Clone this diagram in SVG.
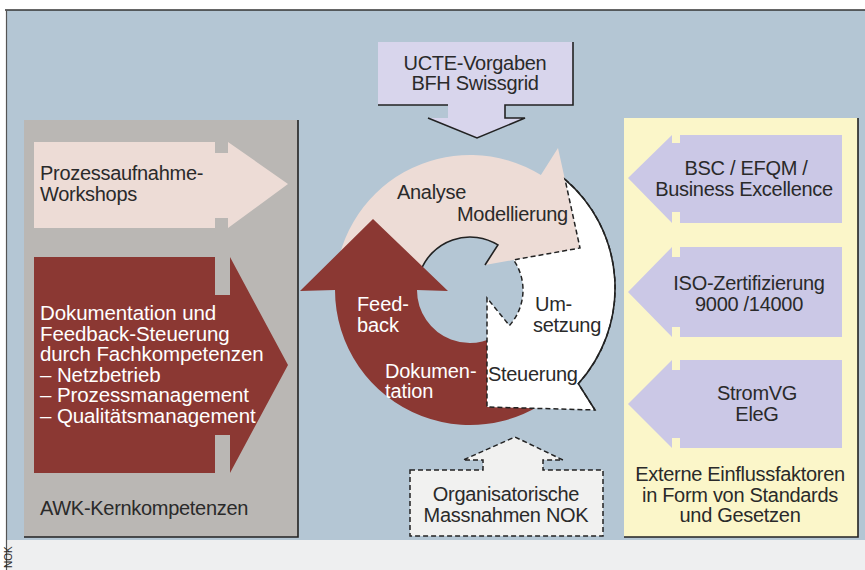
<svg xmlns="http://www.w3.org/2000/svg" width="865" height="570" viewBox="0 0 865 570">
<style>
text{font-family:"Liberation Sans",Arial,Helvetica,sans-serif;font-size:20px;letter-spacing:-0.3px;fill:#2a2a2a}
.w{fill:#ffffff;font-size:20.5px;letter-spacing:-0.1px}
.wc{fill:#ffffff;font-size:20px;letter-spacing:-0.1px}
.mid{text-anchor:middle}
.edge{fill:none;stroke:#222;stroke-width:1.6}
.dash{stroke:#222;stroke-width:1.5;stroke-dasharray:5 3}
.lav{fill:#cbc8e6}
</style>
<rect x="0" y="0" width="865" height="570" fill="#ffffff"/>
<rect x="6" y="540" width="859" height="30" fill="#eeeff0"/>
<rect x="7" y="10" width="858" height="530" fill="#b4c6d4"/>
<line x1="5" y1="10" x2="865" y2="10" stroke="#333" stroke-width="1.5"/>
<line x1="6.5" y1="10" x2="6.5" y2="570" stroke="#555" stroke-width="1.2"/>
<text transform="translate(12,568) rotate(-90)" style="font-size:10px;letter-spacing:0">NOK</text>

<g id="left-panel">
<rect x="24" y="120" width="274" height="417" fill="#bab7b4"/>
<polyline class="edge" points="298,120 298,537 24,537"/>
<text x="40" y="515">AWK-Kernkompetenzen</text>
</g>
<g id="prozessaufnahme">
<polygon points="34,142 215,142 215,153 228,153 228,142 288,184 228,228 228,218 215,218 215,228 34,228" fill="#eddcd6"/>
<text x="40" y="180">Prozessaufnahme-</text>
<text x="40" y="201">Workshops</text>
</g>
<g id="dokumentation">
<polygon points="34,257 215,257 215,295 230,295 230,257 288,365 230,473 230,435 215,435 215,473 34,473" fill="#8b3833"/>
<text class="w" x="40" y="320">Dokumentation und</text>
<text class="w" x="40" y="340.5">Feedback-Steuerung</text>
<text class="w" x="40" y="361">durch Fachkompetenzen</text>
<text class="w" x="40" y="381.5">– Netzbetrieb</text>
<text class="w" x="40" y="402">– Prozessmanagement</text>
<text class="w" x="40" y="422.5">– Qualitätsmanagement</text>
</g>

<g id="right-panel">
<rect x="624" y="118" width="234" height="419" fill="#fbf6c9"/>
<polyline class="edge" points="858,118 858,537 624,537"/>
<text class="mid" x="740" y="481">Externe Einflussfaktoren</text>
<text class="mid" x="740" y="502">in Form von Standards</text>
<text class="mid" x="740" y="522">und Gesetzen</text>
</g>
<g id="bsc">
<polygon class="lav" points="628,178 672,135 672,143 680,143 680,135 842,135 842,223 680,223 680,212 672,212 672,223"/>
<text class="mid" x="746" y="175">BSC / EFQM /</text>
<text class="mid" x="744" y="196">Business Excellence</text>
</g>
<g id="iso">
<polygon class="lav" points="628,292 672,247 672,257 680,257 680,247 842,247 842,337 680,337 680,327 672,327 672,337"/>
<text class="mid" x="749" y="290">ISO-Zertifizierung</text>
<text class="mid" x="749" y="311">9000 /14000</text>
</g>
<g id="stromvg">
<polygon class="lav" points="628,404 672,360 672,370 680,370 680,360 842,360 842,448 680,448 680,438 672,438 672,448"/>
<text class="mid" x="757" y="400">StromVG</text>
<text class="mid" x="757" y="421">EleG</text>
</g>

<g id="ucte">
<polygon points="378,42 573,42 573,105 505,105 505,118 525,118 477,138 428,118 448,118 448,105 378,105" fill="#d8d5ec"/>
<polyline class="edge" points="573,42 573,105 505,105 505,118 525,118 477,138 428,118"/>
<line class="edge" x1="378" y1="105" x2="448" y2="105"/>
<text class="mid" x="475" y="70">UCTE-Vorgaben</text>
<text class="mid" x="475" y="90">BFH Swissgrid</text>
</g>

<g id="nok">
<polygon class="dash" points="410,470 483,470 483,460 463,460 515,437 563,460 543,460 543,470 603,470 603,536 410,536" fill="#f1f1f0"/>
<text class="mid" x="506" y="501">Organisatorische</text>
<text class="mid" x="506" y="522">Massnahmen NOK</text>
</g>

<g id="cycle">
<g id="analyse">
<path d="M335,290 A135,135 0 0 1 540.9,175.1 L558,148 L580,248 L485,265 L497.9,244.9 A53,53 0 0 0 417,290 Z" fill="#eddcd6"/>
<path class="edge" d="M420.2,271.9 A53,53 0 0 1 497.9,244.9 L485,265"/>
<text x="397" y="199">Analyse</text>
<text x="457" y="221">Modellierung</text>
</g>
<g id="feedback">
<path d="M570.3,380.3 A135,135 0 0 1 335,290 L300,291 L373,219 L448,291 L417,290 A53,53 0 0 0 509.4,325.5 Z" fill="#8b3833"/>
<text class="wc" x="357" y="311">Feed-</text>
<text class="wc" x="357" y="332">back</text>
<text class="wc" x="385" y="378">Dokumen-</text>
<text class="wc" x="385" y="398">tation</text>
</g>
<g id="umsetzung">
<path class="dash" d="M565,179.3 A143,143 0 0 1 578.3,383.7 L595,410 L487,407 L487,298 L509.4,325.5 A53,53 0 0 0 513.6,259.9 L580,248 Z" fill="#ffffff"/>
<path class="edge" d="M565,179.3 A143,143 0 0 1 578.3,383.7 L595,410"/>
<text x="535" y="311">Um-</text>
<text x="533" y="332">setzung</text>
<text x="488" y="381">Steuerung</text>
</g>
</g>
</svg>
